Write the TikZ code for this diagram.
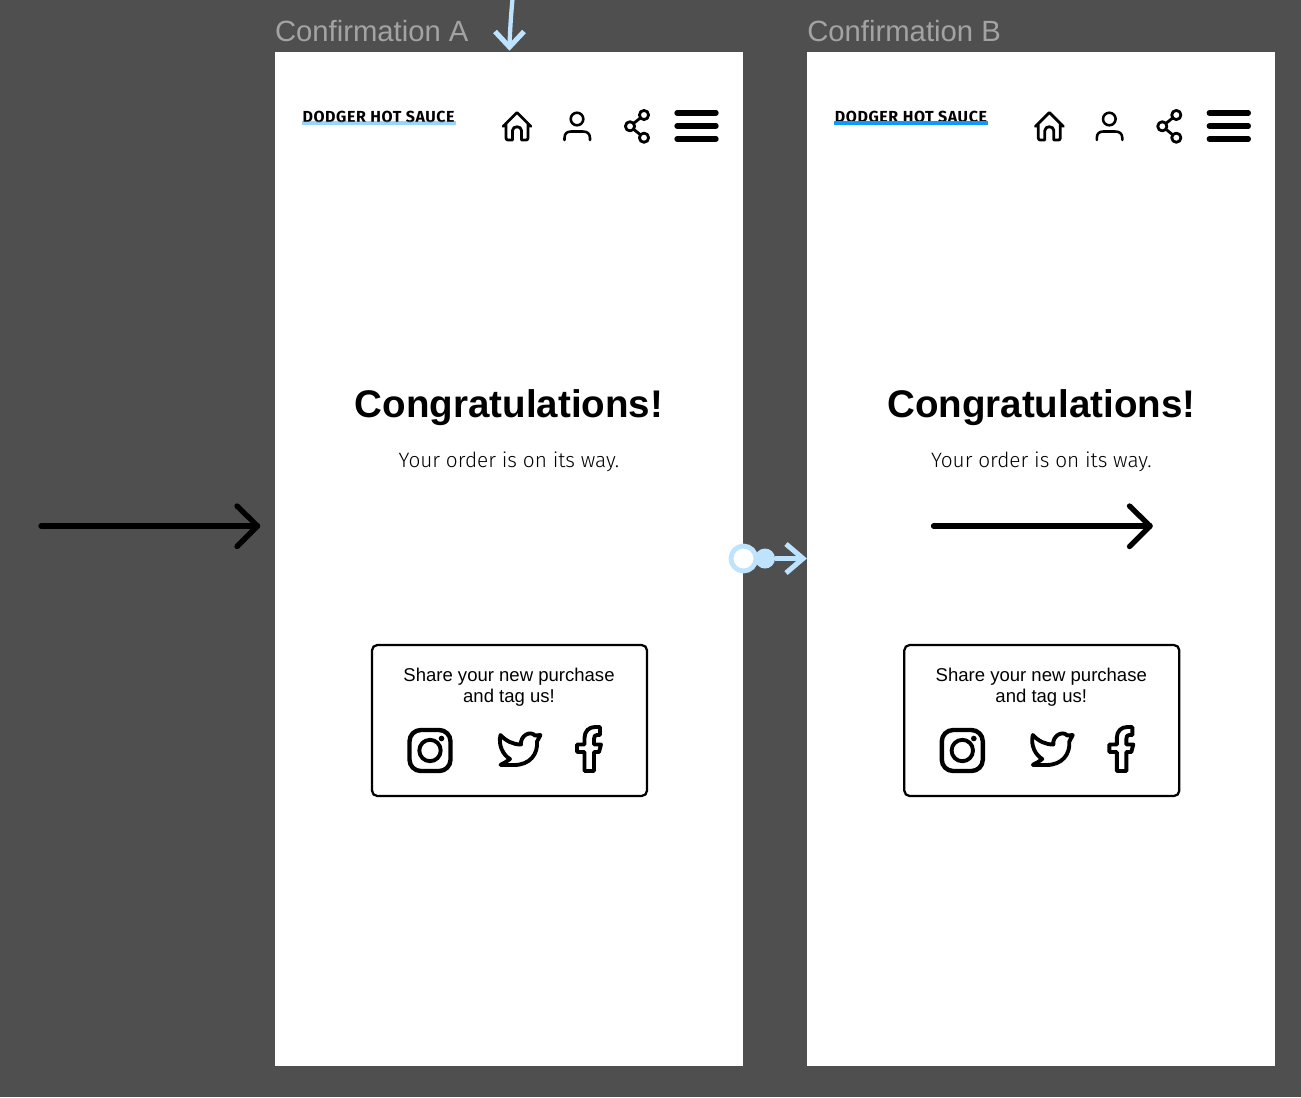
\documentclass[tikz,border=0pt]{standalone}
\usepackage{fontspec}
\setmainfont{Liberation Sans}
\newfontfamily\logofont[LetterSpace=3.8]{Fira Sans}
\newfontfamily\lightfont{Fira Sans Light}
\definecolor{canvas}{HTML}{4F4F4F}
\definecolor{titlegray}{HTML}{A3A3A3}
\definecolor{proto}{HTML}{BDE3FF}
\definecolor{figblue}{HTML}{0D99FF}
\tikzset{
  txt/.style={inner sep=0pt,outer sep=0pt,text=black},
  icon/.style={draw=black,line width=2.1pt,line cap=round,line join=round},
  bigarrow/.style={draw=black,line width=4pt,line cap=round,line join=round},
  protoline/.style={draw=proto,line width=3.2pt},
  protohead/.style={draw=proto,line width=3.8pt,line join=miter},
}
\newcommand{\confscreen}[5]{%
\begin{scope}[shift={(#2,0)}]
  \fill[white] (275,52) rectangle (743,1066);
  \node[txt,anchor=west,text=titlegray] (#1title) at (275,31) {\fontsize{21.95}{24}\selectfont Confirmation #3};
  \node[txt,anchor=base west] (#1logo) at (302.5,122) {\logofont\bfseries\fontsize{12}{13}\selectfont DODGER HOT SAUCE};
  \fill[#4,opacity=#5] (302,120.5) rectangle (456,124.7);
  % house
  \draw[icon] (503,126.5) -- (517,112.5) -- (531,126.5) (506,124) -- (506,138) .. controls (506,139.5) and (507,140) .. (508,140) -- (512.5,140) -- (512.5,130.5) .. controls (512.5,125.5) and (521.5,125.5) .. (521.5,130.5) -- (521.5,140) -- (526,140) .. controls (527,140) and (528,139.5) .. (528,138) -- (528,124);
  % person
  \draw[icon,line width=1.9pt] (577,119) circle (6.3);
  \draw[icon,line width=1.9pt] (564.5,140) -- (564.5,138) .. controls (564.5,133.5) and (567,131.5) .. (571,131.5) -- (583,131.5) .. controls (587,131.5) and (590,133.5) .. (590,138) -- (590,140);
  % share
  \draw[icon] (644,115) circle (4.6) (630,126.3) circle (4.6) (644,137.7) circle (4.6);
  \draw[icon] (633.6,123.4) -- (640.4,117.9) (633.6,129.2) -- (640.4,134.8);
  % menu
  \draw[icon,line width=4pt] (677,113) -- (716,113) (677,126) -- (716,126) (677,139) -- (716,139);
  \node[txt,anchor=base] (#1head) at (509,417.5) {\bfseries\fontsize{28.9}{32}\selectfont Congratulations!};
  \node[txt,anchor=base] (#1sub) at (509,467) {\lightfont\fontsize{15.6}{18}\selectfont Your order is on its way.};
  \draw[black,line width=1.7pt,rounded corners=4pt] (372,645) rectangle (647,796);
  \node[txt,anchor=center,align=center,font=\fontsize{13.9}{15.8}\selectfont] (#1share) at (509,687.5) {Share your new purchase\\and tag us!};
  % instagram
  \draw[icon,line width=3.3pt,rounded corners=8.5pt] (409.5,730) rectangle (450.5,771);
  \draw[icon,line width=2.9pt] (430,750.5) circle (10.7);
  \fill[black] (441.5,738.5) circle (2.8);
  % twitter
  \draw[icon,line width=2.9pt] (500.5,735) .. controls (506,741) and (513,744.5) .. (521,744.5) .. controls (520,736) and (530,730) .. (535,735.5) -- (540.5,735) -- (537,741.5) .. controls (538,754) and (530,765) .. (514,765) .. controls (508,765) and (503,765) .. (500.5,764.8) .. controls (504,763) and (507,761.5) .. (510,759) .. controls (503,755) and (498,745) .. (500.5,735) -- cycle;
  % facebook
  \draw[icon,line width=2.9pt] (600,727) -- (600,735) -- (597,735) .. controls (595,735) and (594,736) .. (594,739) -- (594,744.5) -- (601,744.5) -- (599,752) -- (594,752) -- (594,771) -- (584.5,771) -- (584.5,752) -- (577,752) -- (577,744.5) -- (584.5,744.5) -- (584.5,738) .. controls (584.5,731) and (589,727) .. (595,727) -- cycle;
\end{scope}}
\begin{document}
\begin{tikzpicture}[x=0.75pt,y=-0.75pt]
\useasboundingbox (0,0) rectangle (1301,1097);
\fill[canvas] (0,0) rectangle (1301,1097);
\confscreen{a}{0}{A}{figblue}{0.42}
\confscreen{b}{532.3}{B}{figblue}{1}
% big arrows
\coordinate (arrowAstart) at (41,526);
\coordinate (arrowAend) at (257.5,526);
\coordinate (arrowBstart) at (933.5,526);
\coordinate (arrowBend) at (1150,526);
\draw[bigarrow] (arrowAstart) -- (arrowAend);
\draw[bigarrow] (arrowAend) ++(-20.5,-20) -- (arrowAend) -- ++(-20.5,20.5);
\draw[bigarrow] (arrowBstart) -- (arrowBend);
\draw[bigarrow] (arrowBend) ++(-20.5,-20) -- (arrowBend) -- ++(-20.5,20.5);
% overflow interaction
\coordinate (downstart) at (512.5,-1);
\coordinate (downend) at (509.5,47);
\draw[protoline] (downstart) .. controls (511,15) and (510,30) .. (downend);
\draw[protohead] (downend) ++(-14.5,-15.5) -- (downend) -- ++(14.5,-15.5);
\node[circle,fill=proto,minimum size=15pt,inner sep=0pt] (flowdot) at (765,558.5) {};
\node[circle,draw=proto,fill=white,line width=3.6pt,minimum size=18.75pt,inner sep=0pt] (flowstart) at (743.5,558.5) {};
\coordinate (flowend) at (803,558.5);
\draw[protoline] (flowdot) -- (flowend);
\draw[protohead] (flowend) ++(-17,-14.5) -- (flowend) -- ++(-17,14.5);
\end{tikzpicture}
\end{document}
